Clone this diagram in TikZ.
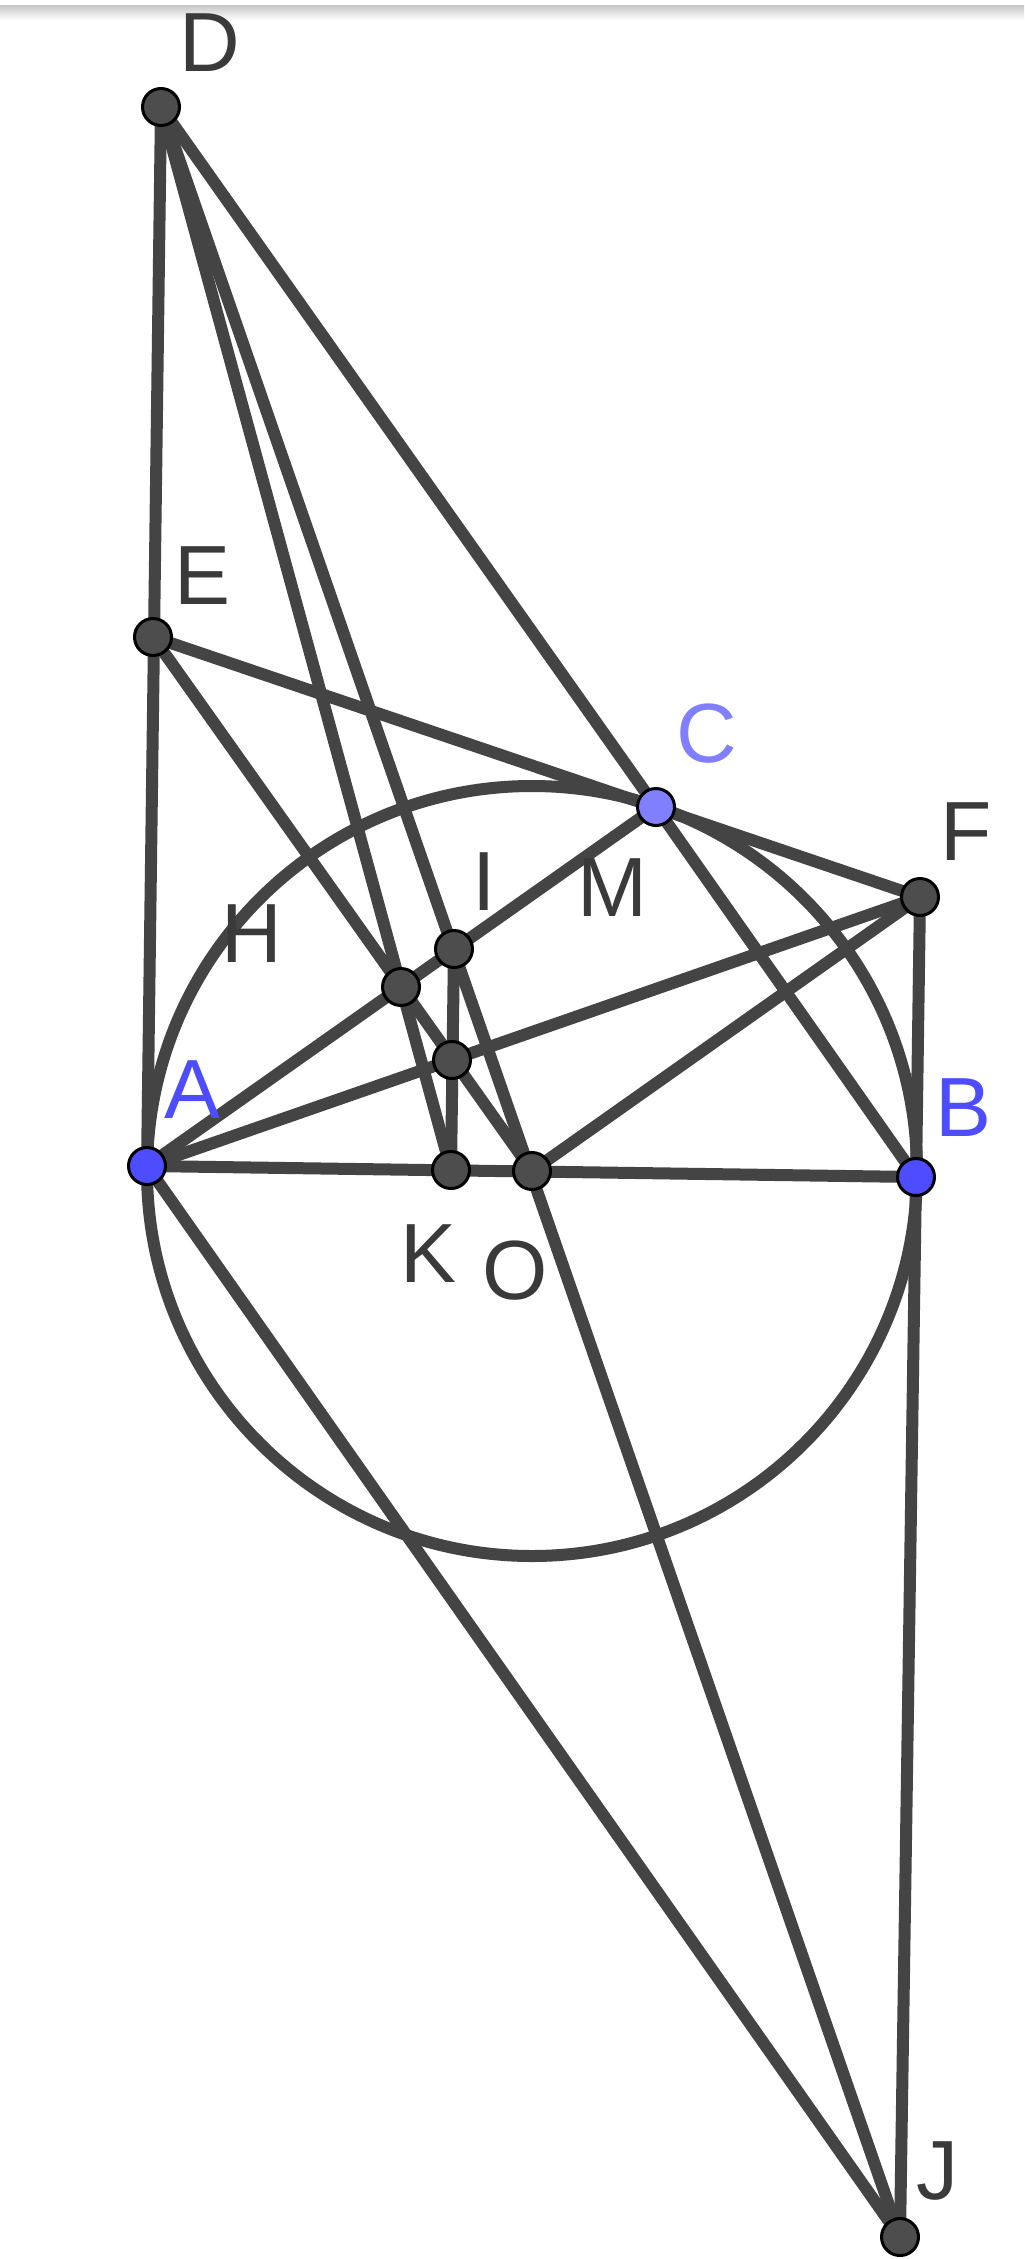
\documentclass[tikz,border=0pt]{standalone}
\usepackage{fontspec}
\setmainfont{Liberation Sans}
\pgfdeclarelayer{bg}
\pgfsetlayers{bg,main}
\definecolor{ln}{HTML}{444444}
\definecolor{ptgray}{HTML}{4D4D4D}
\definecolor{ptblue}{HTML}{4D4DFF}
\definecolor{ptlight}{HTML}{7F7FFF}
\definecolor{lbl}{HTML}{3A3A3A}
\tikzset{
  seg/.style={draw=ln, line width=6pt, line cap=round},
  pt/.style={circle, draw=black, line width=1.5pt, fill=ptgray, minimum size=18.5pt, inner sep=0pt},
  bpt/.style={pt, fill=ptblue},
  cpt/.style={pt, fill=ptlight},
  lab/.style={font=\fontsize{42}{42}\selectfont, text=lbl, inner sep=0pt},
  blab/.style={lab, text=ptblue},
  clab/.style={lab, text=ptlight}
}
\begin{document}
\begin{tikzpicture}[x=0.5pt, y=-0.5pt]
\useasboundingbox (0,0) rectangle (1024,2259);
% points
\node[pt] (D) at (161,107) {};
\node[pt] (E) at (153,637) {};
\node[cpt] (C) at (656,807) {};
\node[pt] (F) at (920,897) {};
\node[pt] (I) at (454,949) {};
\node[pt] (H) at (401,987) {};
\node[pt] (P) at (452,1060) {};
\node[bpt] (A) at (147,1166) {};
\node[pt] (K) at (451,1170) {};
\node[pt] (O) at (532,1171) {};
\node[bpt] (B) at (916,1177) {};
\node[pt] (J) at (900,2237) {};
\begin{pgfonlayer}{bg}
\fill[white] (0,0) rectangle (1024,2259);
\shade[top color=gray!45, bottom color=white] (0,5) rectangle (1024,20);
\draw[seg] (O.center) circle[radius=192.5pt];
\draw[seg] (D.center) -- (A.center);
\draw[seg] (D.center) -- (C.center);
\draw[seg] (D.center) -- (K.center);
\draw[seg] (D.center) -- (J.center);
\draw[seg] (E.center) -- (F.center);
\draw[seg] (E.center) -- (O.center);
\draw[seg] (A.center) -- (C.center);
\draw[seg] (A.center) -- (F.center);
\draw[seg] (O.center) -- (F.center);
\draw[seg] (A.center) -- (B.center);
\draw[seg] (C.center) -- (B.center);
\draw[seg] (F.center) -- (B.center);
\draw[seg] (B.center) -- (J.center);
\draw[seg] (A.center) -- (J.center);
\draw[seg] (I.center) -- (K.center);
\end{pgfonlayer}
% labels
\node[lab] (lD) at (210,43) {D};
\node[lab] (lE) at (203,576) {E};
\node[clab] (lC) at (707,734) {C};
\node[lab] (lF) at (966,832) {F};
\node[lab] (lI) at (484,882) {I};
\node[lab] (lM) at (612,888) {M};
\node[lab] (lH) at (252,934) {H};
\node[blab] (lA) at (193,1090) {A};
\node[blab] (lB) at (964,1108) {B};
\node[lab] (lK) at (429,1254) {K};
\node[lab] (lO) at (515,1271) {O};
\node[lab] (lJ) at (937,2171) {J};
\end{tikzpicture}
\end{document}
